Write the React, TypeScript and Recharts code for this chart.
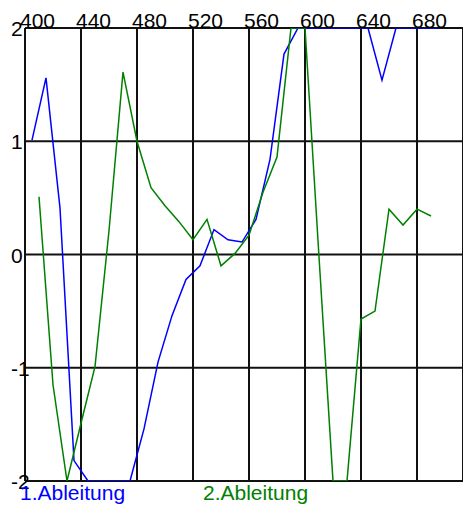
import { LineChart, Line, XAxis, YAxis, CartesianGrid } from "recharts";

// 1. Ableitung liegt auf den Zwischenwerten (405, 415, ...), 2. Ableitung auf 410, 420, ...
const wellen1 = [405, 415, 425, 435, 445, 455, 465, 475, 485, 495, 505, 515, 525, 535, 545, 555, 565, 575, 585, 595, 605, 615, 625, 635, 645, 655, 665, 675, 685, 695];
const ableitung1 = [1.01, 1.56, 0.41, -1.82, -2, -2, -2, -2, -1.54, -0.95, -0.54, -0.22, -0.1, 0.22, 0.13, 0.11, 0.31, 0.84, 1.77, 2, 2, 2, 2, 2, 2, 1.54, 2, 2, 2, 2];

const wellen2 = [410, 420, 430, 440, 450, 460, 470, 480, 490, 500, 510, 520, 530, 540, 550, 560, 570, 580, 590, 600, 610, 620, 630, 640, 650, 660, 670, 680, 690];
const ableitung2 = [0.51, -1.15, -2, -1.49, -0.99, 0.21, 1.61, 1.0, 0.59, 0.43, 0.29, 0.13, 0.31, -0.1, 0.01, 0.17, 0.55, 0.86, 2, 2, -0.02, -2, -2, -0.57, -0.5, 0.4, 0.26, 0.4, 0.34];

const xTicks = [400, 440, 480, 520, 560, 600, 640, 680];
const yTicks = [-2, -1, 0, 1, 2];

const serie1 = wellen1.map((x, i) => ({ x, y: ableitung1[i] }));
const serie2 = wellen2.map((x, i) => ({ x, y: ableitung2[i] }));

const FONT = "'Liberation Sans', Arial, sans-serif";

const XTick = ({ x, payload }: any) => (
  <text x={x - 5} y={28} fontSize={21} fontFamily={FONT} fill="#000">
    {payload.value}
  </text>
);

const YTick = ({ y, payload }: any) => (
  <text x={11} y={y + 8} fontSize={21} fontFamily={FONT} fill="#000">
    {payload.value}
  </text>
);

export default function App() {
  return (
    <div style={{ position: "absolute", left: 0, top: 0, width: 463, height: 509, background: "#fff" }}>
      <LineChart width={463} height={509} margin={{ top: 0, right: 0, bottom: 28, left: 0 }}>
        <CartesianGrid stroke="#111" strokeWidth={2} />
        <XAxis
          type="number"
          dataKey="x"
          orientation="top"
          domain={[400, 712.86]}
          ticks={xTicks}
          interval={0}
          height={28}
          axisLine={false}
          tickLine={false}
          tick={<XTick />}
          allowDataOverflow
        />
        <YAxis
          type="number"
          domain={[-2, 2]}
          ticks={yTicks}
          interval={0}
          width={25}
          axisLine={false}
          tickLine={false}
          tick={<YTick />}
          allowDataOverflow
        />
        <Line
          data={serie1}
          dataKey="y"
          type="linear"
          stroke="#0000ff"
          strokeWidth={1.5}
          dot={false}
          isAnimationActive={false}
        />
        <Line
          data={serie2}
          dataKey="y"
          type="linear"
          stroke="#008000"
          strokeWidth={1.5}
          dot={false}
          isAnimationActive={false}
        />
      </LineChart>
      <div style={{ position: "absolute", left: 0, top: 482, width: 463, fontFamily: FONT, fontSize: 21, lineHeight: "21px" }}>
        <span style={{ position: "absolute", left: 20, top: 0, color: "#0000ff", whiteSpace: "nowrap" }}>1.Ableitung</span>
        <span style={{ position: "absolute", left: 203, top: 0, color: "#008000", whiteSpace: "nowrap" }}>2.Ableitung</span>
      </div>
    </div>
  );
}
